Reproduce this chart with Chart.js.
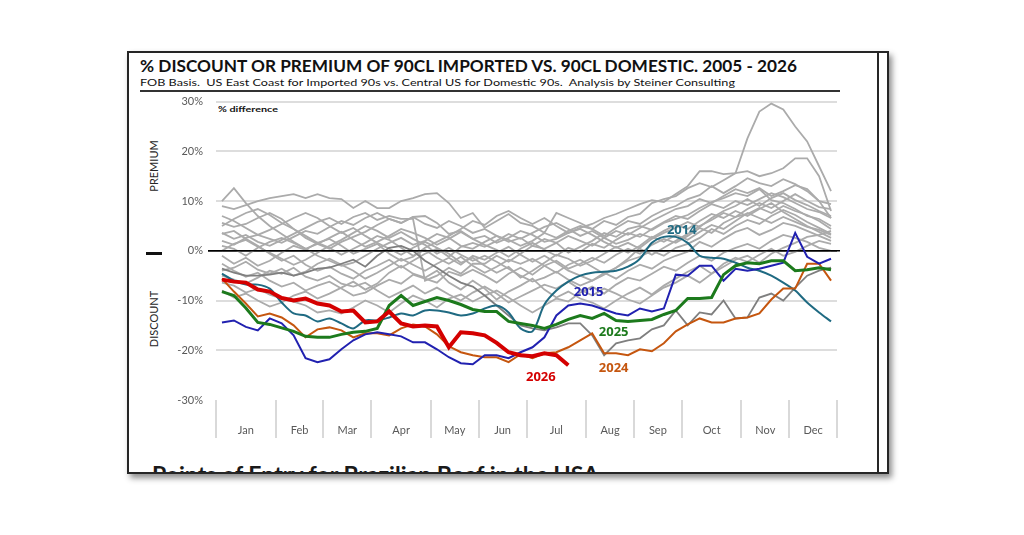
<!DOCTYPE html>
<html>
<head>
<meta charset="utf-8">
<script src="https://cdn.jsdelivr.net/npm/chart.js@4.4.1/dist/chart.umd.min.js"></script>
<style>
  body { margin: 0; width: 1024px; height: 535px; background: #fff; position: relative; overflow: hidden; font-family: Lato, "Open Sans", sans-serif; }
  .frame { position: absolute; left: 127px; top: 51px; width: 758px; height: 419px; border: 2px solid #262626; box-shadow: 3px 4px 6px rgba(0,0,0,0.45); overflow: hidden; background: #fff; }
  .inner-rule { position: absolute; left: 748px; top: 0; width: 2px; height: 100%; background: #262626; }
  .next-head { position: absolute; left: 23px; top: 407px; font-size: 23px; font-weight: 700; color: #1a1a1a; white-space: nowrap; }
  .txt { position: absolute; white-space: nowrap; transform-origin: left center; color: #111; }
  #title { left: 140px; top: 55px; font-size: 17px; font-weight: 700; }
  #subtitle { left: 140px; top: 76px; font-size: 10px; }
  #rule { position: absolute; left: 140px; top: 90px; width: 700px; height: 2px; background: #333; }
  #unit { left: 218px; top: 105px; font-size: 7.5px; font-weight: 700; }
  .side { position: absolute; font-size: 11px; color: #262626; transform: translate(-50%, -50%) rotate(-90deg); white-space: nowrap; }
  #dash { position: absolute; left: 146px; top: 252px; width: 16px; height: 3px; background: #111; }
  #chart { position: absolute; left: 160px; top: 90px; }
</style>
</head>
<body>
<div class="frame">
  <div class="inner-rule"></div>
  <div class="next-head" data-fit="447">Points of Entry for Brazilian Beef in the USA</div>
</div>
<div class="txt" id="title" data-fit="657">% DISCOUNT OR PREMIUM OF 90CL IMPORTED VS. 90CL DOMESTIC. 2005 - 2026</div>
<div class="txt" id="subtitle" data-fit="595">FOB Basis.&nbsp; US East Coast for Imported 90s vs. Central US for Domestic 90s.&nbsp; Analysis by Steiner Consulting</div>
<div id="rule"></div>
<div class="txt" id="unit" data-fit="60">% difference</div>
<div class="side" style="left:153px; top:166px;">PREMIUM</div>
<div class="side" style="left:153px; top:319px;">DISCOUNT</div>
<div id="dash"></div>
<canvas id="chart" width="685" height="360"></canvas>

<script>
// weekly axis: month blocks of 4 or 5 weeks
const monthLabels = ['Jan', 'Feb', 'Mar', 'Apr', 'May', 'Jun', 'Jul', 'Aug', 'Sep', 'Oct', 'Nov', 'Dec'];
const weeksPerMonth = [5, 4, 4, 5, 4, 4, 5, 4, 4, 5, 4, 4];
const yTickValues = [-30, -20, -10, 0, 10, 20, 30];

// grey years (% difference by week)
const y2005 = [10, 12.6, 9.6, 7, 5, 3.4, 1.8, 0.4, -1, -2, -3, -2.4, -1, 0.4, 1.6, 2.6, 1.2, 2, 3.4, 2.6, 1, 0.4, 1.8, 3, 2.2, 1, 2, 3.6, 2.6, 4, 5, 4.4, 6, 5.2, 6.8, 7.4, 9.6, 10.4, 11, 12.6, 13.6, 12.8, 14.2, 15.6, 16, 15, 15.6, 16.6, 18.6, 18.6, 15, 8];
const y2006 = [9, 8.4, 9.2, 10, 10.6, 11, 11.4, 10.6, 11.4, 10.6, 10.4, 8.6, 10, 8.6, 8.6, 10, 10.6, 11.4, 11.6, 9.6, 6.6, 7.6, 4.6, 6, 7.4, 5.6, 5, 3.6, 7.6, 6.6, 5.6, 4.4, 3, 4.6, 6, 5.4, 7, 8.2, 9, 10.4, 11.2, 13, 11.6, 13, 14.6, 13.6, 13, 14.4, 13.4, 12, 10, 6.6];
const y2007 = [5.6, 4.8, 5.4, 6.6, 7.6, 6.4, 4.4, 2.6, 1.4, 0.4, 1.8, 2.8, 3.8, 5.2, 6.4, 5.6, 6.8, 7, 5.6, 3.4, 4, 2.4, 3, 1.6, 2.6, 4, 3.2, 1.8, 2.4, 3.6, 4.6, 5.4, 6.6, 7.4, 8.4, 9.4, 10.2, 9.8, 11.4, 13, 16, 16, 15.4, 15.6, 22.6, 28, 29.6, 28.4, 25, 22, 17, 12];
const y2008 = [3.6, 2.4, 3.2, 1.8, 1, 2.2, 3.4, 4.6, 5.8, 6.6, 5.4, 6.8, 7.6, 6.2, 7, 6.4, 6.4, -6, -5, -3.4, -4.6, -2.6, -2.6, -1, -2.2, -0.6, 1, 2.4, 1.6, 3, 2, 1, 2.6, 4, 3.2, 4.6, 6, 7.2, 8.4, 9, 10.4, 9.6, 11, 12.4, 11.6, 12.6, 11, 12, 13.2, 12.4, 10, 9.4];
const y2009 = [2, 1.2, 2.6, 3.2, 2.4, 1.6, 2.8, 4, 3.4, 4.8, 6, 5.2, 6.6, 7.6, 6.4, 5.6, 6.8, 5.4, 4.6, 6, 5, 3.6, 4.4, 3, 1.8, 2.6, 1, 0.4, 1.6, -0.4, 0.8, 2, 3.6, 2.8, 4.4, 5, 4.2, 5.6, 6.4, 7.2, 8.6, 9.8, 10.6, 11.6, 11, 12.4, 10.2, 9.6, 8.4, 7, 6.4, 5];
const y2010 = [1, 0.4, -1, 0.6, 1.8, 2.6, 1.6, 0.4, 1.4, 2.6, 3.8, 2.2, 0.8, 1.8, 3, 4.4, 3.6, 2.6, 1.2, 2.4, 3.8, 2.4, 1.2, 0.2, -1.2, 0.4, 1.6, 0.2, -1, 0.6, -0.2, 1.4, 0.6, 2.2, 3.6, 2.8, 4.4, 5.8, 7, 6.4, 8, 9.4, 8.6, 10, 9.2, 10.4, 11.6, 10.8, 9.6, 8.4, 7.8, 6.6];
const y2011 = [-2.6, -4, -5.2, -4.4, -6, -7.2, -6.4, -8, -7, -6.2, -7.6, -9, -8.4, -7, -5.8, -6.6, -4.8, -5.6, -6.4, -4.2, -5, -3.8, -5, -6.4, -4.6, -3.4, -4.8, -3, -2, -3.6, -2.6, -1.4, -2.4, -0.8, 0.4, -0.6, 1.2, 2.4, 1.6, 3, 4.6, 3.6, 5.6, 6.8, 7.4, 8.6, 7.6, 9, 8, 7.2, 6, 4.4];
const y2012 = [-6.4, -7, -8.4, -7.6, -8.8, -9.6, -10.2, -11, -12.4, -12, -12.6, -11.4, -10, -11, -12.4, -10.6, -9, -10, -11.4, -9.6, -8.8, -10.2, -9, -8, -9.4, -11, -12.4, -11, -9.6, -10.2, -8.4, -7.2, -8.6, -6.8, -5.4, -6, -4.6, -3.2, -4, -2.4, -1, -2, -0.4, 0.6, 1.4, 0.4, 2, 3.2, 2.6, 1.8, 0.6, 0];
const y2013 = [3.4, 4, 2.4, 1, -0.6, -2, -1, -2.8, -4, -3.2, -4.6, -5.6, -4, -3, -1.8, -3.4, -2, -0.6, 0.4, -1.2, 0.8, 1.6, 0.8, 2, 3.4, 2.4, 3.6, 4.8, 5.6, 4.4, 3, 4, 2.6, 1.4, 2.2, 3.4, 2.6, 4, 5.2, 4.4, 6, 7.4, 6.6, 8, 7, 8.4, 9.6, 7.8, 6.4, 5, 3.8, 2.6];
const y2016 = [-1, -2.6, -1.4, -3, -2, -0.4, 1, 0.2, 1.6, 0.6, -0.8, 0.4, 1.6, 3, 2.2, 0.6, -1, 0.2, -1.4, -2.6, -1.2, -3, -4.4, -3.2, -1.8, -2.6, -1.6, -3, -4.4, -2.8, -1.8, -3.2, -4.6, -3.4, -2, -1.2, 0, -1, 0.6, 1.4, 2.6, 4.4, 3.4, 5, 6.2, 5.4, 7, 8.2, 7.2, 5.8, 4.6, 3.4];
const y2017 = [-4, -3.4, -2.2, -3.8, -4.6, -3.6, -5, -4.2, -2.6, -1.6, -2.8, -4, -5.6, -4.4, -3, -1.6, -2.8, -4, -2.6, -1.4, -2.8, -1, -1.8, -0.4, 0.8, -0.8, -2.2, -1, -2.4, -4, -5, -6, -4.4, -5.6, -4, -2.8, -3.6, -2, -1, -0.2, 1.8, 0.8, 2.4, 3.8, 4.6, 3.2, 4.2, 5.6, 5, 4, 3, 2];
const y2018 = [5, 6.4, 7.6, 8.4, 7.2, 5.6, 4.4, 3, 1.6, 2.4, 1, -0.6, 0.4, 1.4, -0.6, -2, -1.2, 0.6, 1.8, 3, 4.4, 6, 5.2, 7, 8, 6.6, 5.4, 6.6, 5, 3.6, 4.4, 3.2, 1.8, 0.6, 1.6, 0.4, -0.8, 0.6, 2, 3.4, 5, 6.2, 7.6, 6.8, 8.4, 9.6, 8.6, 10, 11.4, 10, 8.8, 8.4];
const y2019 = [-5, -5.8, -6.6, -5.4, -4, -4.6, -3.4, -5.2, -6, -5, -6.6, -7.2, -6.4, -8, -9.4, -8.2, -7, -8.6, -7.4, -8.8, -10, -8.4, -7.2, -8.6, -10.4, -9.2, -8, -6.8, -7.6, -6.2, -7.8, -9, -7.6, -8.6, -9.8, -10.6, -9, -7.4, -6.4, -5, -6.4, -4.6, -3.2, -1.8, -1, -2.4, -0.6, 0.6, 1.6, 2.8, 3.2, 4];
const y2020 = [0, 1.4, 2.2, 0.8, -0.4, -1.6, -2.8, -1.8, -0.4, 1, 2.2, 3.6, 5, 4, 2.6, 3.8, 2.4, 1.2, -0.6, 0.6, -0.8, -2, -1, -2.2, -3.6, -5, -6.2, -5.4, -4.2, -5.8, -7, -6, -4.8, -3.4, -1.6, 0.6, 2.4, 3.6, 4.6, 5.8, 4.8, 6.6, 8, 9, 10.4, 9, 10.6, 11.6, 10.2, 9.2, 8, 7];
const y2021 = [7, 6, 4.6, 3.2, 4.2, 5.4, 6.6, 7.6, 6.6, 5, 3.6, 4.6, 3, 1.6, 0.4, -0.8, 0.6, 1.8, 0.6, -0.6, -2.4, -1.4, -3, -4.4, -3.2, -5.4, -4, -2.4, -0.8, -1.6, -3, -2, -0.6, 0.8, -0.4, 1, 2.8, 1.8, 3.2, 2.2, 3.8, 5.2, 4.4, 6, 7.6, 6.6, 5.6, 6.8, 5.8, 4.8, 4.2, 3.2];
const y2022 = [-8, -9.4, -8.6, -10, -11.2, -10.4, -9, -8.2, -9.6, -8.6, -7.4, -6.2, -7.8, -6.6, -4.4, -3, -4.6, -5.4, -4, -6.4, -7.8, -6, -7.6, -9.8, -8.2, -7, -5.6, -7.8, -9.4, -8.2, -9.6, -10.4, -11.6, -10, -8.6, -7.4, -8.8, -7, -5.6, -4.2, -3, -4.6, -2.6, -1.4, -2.2, -0.8, 0.4, -1, -0.2, 1, 2, 1.4];
const y2023 = [-3.6, -4.4, -5, -5, -4.8, -4.4, -5, -4.4, -3.6, -3.4, -2.6, -1.8, -3.2, -1, 0.6, 1, 0, -2, -3.4, -5, -6.4, -7.2, -9, -11, -13, -15, -15.6, -16, -15.4, -14.6, -14.6, -17, -21, -18.6, -18, -17.6, -15.8, -15, -12, -15, -12.4, -12.8, -10, -13.6, -13.4, -9.4, -8.6, -10, -7.4, -5, -4, -3.4];

// highlighted years
const y2014 = [-4.6, -6, -6.8, -6.8, -7.6, -10.4, -12.6, -13, -14.2, -13.6, -14.6, -15.6, -14, -14, -13.4, -12.6, -13, -12, -12, -12.4, -13, -12.6, -11.6, -11, -12.4, -15.6, -16.2, -10.8, -8, -6.2, -5, -4.4, -4.2, -4, -3.2, -1.6, 1.6, 2.8, 2.8, 1.6, -1, -1.4, -1.6, -2.4, -3.4, -4, -5, -6.4, -8, -10.4, -12.4, -14.2];
const y2015 = [-14.4, -14, -15.3, -16, -13.6, -14.6, -17, -21.6, -22.4, -21.8, -19.8, -18, -16.8, -16.4, -16.8, -17.2, -18.4, -18.4, -19.8, -21.4, -22.6, -22.8, -21, -21, -21.6, -20.4, -19.4, -17.4, -13, -11, -10.6, -11, -11.8, -12.6, -13, -11.6, -12.2, -11.6, -4.8, -5, -3, -3, -6, -3.6, -4, -3.6, -3, -2.4, 3.6, -1.2, -2.6, -1.6];
const y2024 = [-5.6, -8.2, -10.6, -13.2, -12.6, -13.4, -15, -17.4, -15.8, -15.4, -16, -17.4, -16.6, -16.6, -17, -15.6, -14.8, -15.2, -16.8, -19.2, -20.4, -21, -21.4, -21.4, -22.4, -20.8, -21.6, -20.6, -20.4, -19.4, -18, -16.6, -20.6, -20.6, -21, -19.8, -20.2, -18.6, -16.2, -14.8, -13.6, -14.4, -14.4, -13.6, -13.4, -12.6, -9.8, -7.6, -7.6, -2.6, -2.6, -6];
const y2025 = [-8.2, -9, -11.5, -14.4, -14.8, -15.5, -16.2, -17.2, -17.4, -17.4, -16.8, -16.4, -16.2, -15.6, -11, -9, -11, -10.2, -9.4, -10, -10.8, -11.8, -12.2, -12.2, -14.2, -14.6, -15, -15.6, -14.8, -13.8, -13, -13.6, -12.6, -14, -14.2, -14, -13.8, -12.8, -12, -9.6, -9.6, -9.4, -4.8, -3, -2.4, -2.6, -2, -2, -4, -3.8, -3.4, -3.8];
const y2026 = [-5.8, -6.2, -6.4, -7.8, -8.2, -9.5, -10, -9.6, -10.6, -11, -12.2, -12, -14.4, -14.2, -12.2, -14.6, -15.2, -15, -15.2, -19.4, -16.4, -16.6, -17, -18.5, -20.4, -21, -21.2, -20.6, -21, -23];

// in-plot year tags (week position, % value)
const tagYears = ['2014', '2015', '2025', '2024', '2026'];
const tagWeeks = [39.0, 31.2, 33.3, 33.3, 27.2];
const tagValues = [4.2, -8.4, -16.4, -23.6, -25.4];

const greyYears = [
    ['2005', y2005], ['2006', y2006], ['2007', y2007], ['2008', y2008], ['2009', y2009],
    ['2010', y2010], ['2011', y2011], ['2012', y2012], ['2013', y2013], ['2016', y2016],
    ['2017', y2017], ['2018', y2018], ['2019', y2019], ['2020', y2020], ['2021', y2021],
    ['2022', y2022]
];

const colorFor = {
    '2014': '#1F6A82',
    '2015': '#2121B0',
    '2024': '#C5560F',
    '2025': '#1C7A1C',
    '2026': '#D40000'
};

// fit a few text blocks to the width they have in the picture
function fitText() {
    document.querySelectorAll('[data-fit]').forEach(el => {
        el.style.display = 'inline-block';
        const w = el.getBoundingClientRect().width;
        const target = parseFloat(el.dataset.fit);
        el.style.transformOrigin = 'left center';
        el.style.transform = 'scaleX(' + (target / w) + ')';
    });
}
fitText();

function toPoints(values) {
    // each week is drawn at the middle of its slot
    return values.map((v, i) => ({ x: i + 0.5, y: v }));
}

// month boundaries + month centres for the x axis
const boundaries = [0];
const centres = [];
weeksPerMonth.forEach((n, i) => {
    const start = boundaries[boundaries.length - 1];
    centres.push(start + n / 2);
    boundaries.push(start + n);
});
const centreLabel = {};
centres.forEach((c, i) => { centreLabel[c] = monthLabels[i]; });
const xTickValues = boundaries.concat(centres).sort((a, b) => a - b);

const datasets = [];
greyYears.forEach(([year, values]) => {
    datasets.push({ label: year, data: toPoints(values), borderColor: '#ABABAB', borderWidth: 1.8, order: 10 });
});
datasets.push({ label: '2023', data: toPoints(y2023), borderColor: '#7F7F7F', borderWidth: 1.8, order: 9 });
datasets.push({ label: '2014', data: toPoints(y2014), borderColor: colorFor['2014'], borderWidth: 2, tension: 0.3, order: 5, highlight: true });
datasets.push({ label: '2024', data: toPoints(y2024), borderColor: colorFor['2024'], borderWidth: 2, order: 4, highlight: true });
datasets.push({ label: '2015', data: toPoints(y2015), borderColor: colorFor['2015'], borderWidth: 2, order: 3, highlight: true });
datasets.push({ label: '2025', data: toPoints(y2025), borderColor: colorFor['2025'], borderWidth: 3, order: 2, highlight: true });
datasets.push({ label: '2026', data: toPoints(y2026), borderColor: colorFor['2026'], borderWidth: 4, order: 1, highlight: true });

// black zero line drawn over the grey years, under the coloured ones
let zeroDone = false;
const zeroLine = {
    id: 'zeroLine',
    beforeDatasetsDraw() { zeroDone = false; },
    beforeDatasetDraw(chart, args) {
        if (zeroDone || !chart.data.datasets[args.index].highlight) return;
        zeroDone = true;
        const ctx = chart.ctx;
        const y = chart.scales.y.getPixelForValue(0);
        ctx.save();
        ctx.strokeStyle = '#000';
        ctx.lineWidth = 1.5;
        ctx.beginPath();
        ctx.moveTo(chart.chartArea.left - 8, y);
        ctx.lineTo(chart.chartArea.right + 3, y);
        ctx.stroke();
        ctx.restore();
    }
};

const yearTags = {
    id: 'yearTags',
    afterDatasetsDraw(chart) {
        const ctx = chart.ctx;
        ctx.save();
        ctx.font = 'bold 13px "Open Sans"';
        ctx.textAlign = 'center';
        ctx.textBaseline = 'middle';
        tagYears.forEach((year, i) => {
            ctx.fillStyle = colorFor[year];
            ctx.fillText(year, chart.scales.x.getPixelForValue(tagWeeks[i]), chart.scales.y.getPixelForValue(tagValues[i]));
        });
        ctx.restore();
    }
};

new Chart(document.getElementById('chart'), {
    type: 'line',
    data: { datasets: datasets },
    options: {
        responsive: false,
        animation: false,
        events: [],
        layout: { padding: { top: 7, right: 8, bottom: 10, left: 0 } },
        elements: { point: { radius: 0 }, line: { tension: 0 } },
        plugins: { legend: { display: false }, tooltip: { enabled: false } },
        scales: {
            x: {
                type: 'linear',
                min: 0,
                max: 52,
                afterBuildTicks: scale => { scale.ticks = xTickValues.map(v => ({ value: v })); },
                afterFit: scale => { scale.height = 40; },
                border: { display: false },
                grid: {
                    drawOnChartArea: false,
                    tickLength: 38,
                    lineWidth: 2,
                    color: ctx => (ctx.tick && boundaries.includes(ctx.tick.value)) ? '#D9D9D9' : 'rgba(0,0,0,0)'
                },
                ticks: {
                    autoSkip: false,
                    maxRotation: 0,
                    padding: -14,
                    color: '#595959',
                    font: { family: 'Lato', size: 11 },
                    callback: value => centreLabel[value] || ''
                }
            },
            y: {
                min: -30,
                max: 30,
                afterBuildTicks: scale => { scale.ticks = yTickValues.map(v => ({ value: v })); },
                afterFit: scale => { scale.width = 56; },
                border: { display: false },
                grid: {
                    tickLength: 8,
                    lineWidth: ctx => (ctx.tick && ctx.tick.value === 0) ? 1.5 : 2,
                    color: ctx => {
                        if (!ctx.tick) return 'rgba(0,0,0,0)';
                        if (ctx.tick.value === 0) return '#000';
                        if (ctx.tick.value === -30) return 'rgba(0,0,0,0)';
                        return '#DDDDDD';
                    },
                    tickColor: ctx => (ctx.tick && ctx.tick.value === 0) ? '#000' : 'rgba(0,0,0,0)'
                },
                ticks: {
                    padding: 5,
                    color: '#595959',
                    font: { family: 'Lato', size: 11 },
                    callback: v => v + '%'
                }
            }
        }
    },
    plugins: [zeroLine, yearTags]
});
</script>
</body>
</html>
